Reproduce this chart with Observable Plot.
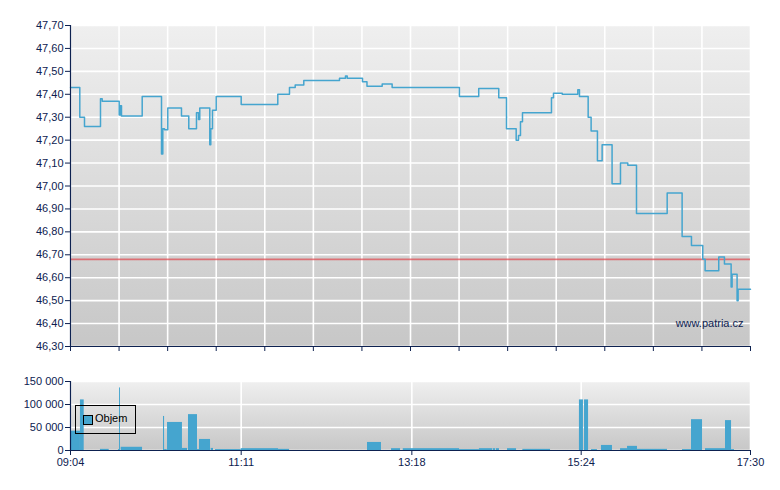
<!DOCTYPE html>
<html><head><meta charset="utf-8">
<script src="https://cdn.jsdelivr.net/npm/d3@7"></script>
<script src="https://cdn.jsdelivr.net/npm/@observablehq/plot@0.6"></script>
<style>
body{margin:0;background:#fff;font-family:"Liberation Sans",Arial,sans-serif;}
#wrap{position:relative;width:780px;height:490px;overflow:hidden;}
#price{position:absolute;left:0;top:0;}
#vol{position:absolute;left:0;top:360px;}
#legend{position:absolute;left:75px;top:405px;width:61px;height:29px;border:1px solid #000;box-sizing:border-box;font-size:11px;color:#000;}
#legend .sw{position:absolute;left:7px;top:9px;width:8px;height:8px;background:#46a6cf;border:1px solid #000;}
#legend .lb{position:absolute;left:19px;top:6px;line-height:13px;}
</style></head>
<body><div id="wrap"><div id="price"></div><div id="vol"></div>
<div id="legend"><div class="sw"></div><div class="lb">Objem</div></div></div>
<script>
// ---------- data ----------
const priceTimes = ["09:04:00","09:10:55","09:14:25","09:26:19","09:27:35","09:40:14","09:41:00","09:41:57","09:57:21",
 "10:11:43","10:12:41","10:13:56","10:16:24","10:26:35","10:32:01","10:37:45","10:39:14","10:40:12","10:47:39","10:48:23",
 "10:49:39","10:52:25","11:11:01","11:38:15","11:46:57","11:51:12","11:57:36","12:24:10","12:28:37","12:29:54","12:41:17",
 "12:44:37","12:55:56","13:03:20","13:53:24","14:07:46","14:22:40","14:28:26","14:35:38","14:37:22","14:38:50","14:40:20",
 "15:01:54","15:03:24","15:09:54","15:21:30","15:22:44","15:29:12","15:31:24","15:36:06","15:39:36","15:47:00","15:53:15",
 "15:58:42","16:05:10","16:28:00","16:39:07","16:46:04","16:54:29","16:56:14","17:06:22","17:10:37","17:15:35","17:16:19",
 "17:20:01","17:20:47","17:30:00"];
const priceValues = [47.43,47.30,47.26,47.38,47.37,47.31,47.35,47.305,47.39,
 47.14,47.25,47.245,47.34,47.305,47.25,47.32,47.29,47.34,47.18,47.25,
 47.33,47.39,47.355,47.40,47.43,47.44,47.46,47.47,47.48,47.47,47.455,
 47.435,47.445,47.43,47.39,47.425,47.385,47.25,47.20,47.22,47.28,47.32,
 47.385,47.405,47.40,47.42,47.39,47.30,47.24,47.11,47.18,47.01,47.10,
 47.09,46.88,46.97,46.78,46.74,46.68,46.63,46.69,46.66,46.56,46.615,
 46.50,46.55,46.55];
const refPrice = 46.68;

const volStart = ["09:04:00","09:11:24","09:26:18","09:39:42","09:40:30","09:41:42","10:13:12","10:14:00","10:16:12","10:27:18",
 "10:31:48","10:38:30","10:40:00","10:48:42","10:51:54","11:11:00","11:38:48","12:45:00","13:02:54","13:11:36","13:53:30",
 "14:08:18","14:18:30","14:21:00","14:29:12","14:40:36","15:22:42","15:26:30","15:31:42","15:39:06","15:53:18","15:58:30",
 "16:05:54","16:39:24","16:46:06","16:56:30","17:11:24","17:15:54"];
const volEnd = ["09:11:24","09:14:12","09:32:48","09:40:30","09:41:12","09:57:36","10:14:00","10:16:00","10:27:18","10:31:06",
 "10:38:30","10:40:00","10:48:12","10:50:24","11:11:00","11:38:48","11:47:00","12:55:24","13:09:36","13:53:30","14:08:18",
 "14:18:00","14:20:24","14:23:12","14:35:54","15:01:12","15:25:42","15:29:30","15:36:06","15:47:18","15:58:30","16:05:54",
 "16:28:12","16:46:06","16:54:18","17:11:24","17:15:54","17:18:06"];
const volValues = [42000,110000,2500,2000,136000,7000,74000,2000,61000,4500,
 78000,2000,24000,4500,2000,4000,2500,17500,4000,4000,2000,
 4000,4000,4000,4000,2500,110000,110000,2000,11000,4000,9000,
 2500,2000,67000,4000,65000,2000];

const sessionStart = "09:04", sessionEnd = "17:30";
const timeTickLabels = ["09:04","11:11","13:18","15:24","17:30"];
const priceTicks = [46.3,46.4,46.5,46.6,46.7,46.8,46.9,47.0,47.1,47.2,47.3,47.4,47.5,47.6,47.7];
const volTicks = [0,50000,100000,150000];
const watermark = "www.patria.cz";
const legendLabel = "Objem";

// ---------- helpers ----------
const toMin = s => { const [h,m,sec=0] = s.split(":").map(Number); return h*60 + m + sec/60; };
const loc = d3.formatLocale({decimal:",", thousands:"\u00a0", grouping:[3], currency:["",""]});
const fmtPrice = loc.format(".2f");
const fmtVol = loc.format(",d");
const navy = "#0d2150";
const blue = "#45a5cf";
const t0 = toMin(sessionStart), t1 = toMin(sessionEnd);
const gridPositions = d3.range(15).map(i => t0 + i*(t1 - t0)/14);
const labelTicks = timeTickLabels.map(toMin);
const fmtTime = v => { const i = labelTicks.indexOf(v); return i >= 0 ? timeTickLabels[i] : ""; };

const price = priceTimes.map((t,i) => ({t: toMin(t), p: priceValues[i]}));
const vol = volStart.map((s,i) => ({a: toMin(s), b: toMin(volEnd[i]), v: volValues[i]}));

function addGradient(svg, id) {
  const ns = "http://www.w3.org/2000/svg";
  const defs = document.createElementNS(ns, "defs");
  const g = document.createElementNS(ns, "linearGradient");
  g.setAttribute("id", id); g.setAttribute("x1","0"); g.setAttribute("y1","0"); g.setAttribute("x2","0"); g.setAttribute("y2","1");
  [["0%","#efefef"],["100%","#c7c7c7"]].forEach(([o,c]) => {
    const st = document.createElementNS(ns, "stop"); st.setAttribute("offset", o); st.setAttribute("stop-color", c); g.appendChild(st);
  });
  defs.appendChild(g); svg.insertBefore(defs, svg.firstChild);
}

const baseStyle = {fontFamily: '"Liberation Sans", Arial, sans-serif', fontSize: "11px", color: navy, background: "transparent", overflow: "visible"};

// ---------- price chart ----------
const priceSvg = Plot.plot({
  width: 780, height: 360,
  marginLeft: 70, marginRight: 30, marginTop: 25, marginBottom: 14,
  style: baseStyle,
  x: {type: "linear", domain: [t0, t1], label: null},
  y: {domain: [46.3, 47.7], label: null},
  marks: [
    Plot.frame({fill: "url(#gp)", stroke: null}),
    Plot.gridX(gridPositions, {stroke: "#fff", strokeOpacity: 1, strokeWidth: 1.6}),
    Plot.gridY(priceTicks, {stroke: "#fff", strokeOpacity: 1, strokeWidth: 1.6}),
    Plot.ruleY([refPrice], {stroke: "#e0454c", strokeOpacity: 0.7, strokeWidth: 1.6}),
    Plot.line(price, {x: "t", y: "p", curve: "step-after", stroke: blue, strokeWidth: 1.5}),
    Plot.text([watermark], {frameAnchor: "bottom-right", textAnchor: "end", lineAnchor: "middle", dx: -7, dy: -23, fill: navy, fontSize: 11}),
    Plot.ruleX([t0], {stroke: navy, strokeWidth: 1.2}),
    Plot.ruleY([46.3], {stroke: navy, strokeWidth: 1.2}),
    Plot.axisY(priceTicks, {tickSize: 5, tickPadding: 2, tickFormat: fmtPrice, stroke: navy, fill: navy, label: null}),
    Plot.axisX(gridPositions, {tickSize: 5, tickFormat: () => "", stroke: navy, label: null})
  ]
});
addGradient(priceSvg, "gp");
document.getElementById("price").appendChild(priceSvg);

// ---------- volume chart ----------
const volSvg = Plot.plot({
  width: 780, height: 130,
  marginLeft: 70, marginRight: 30, marginTop: 21, marginBottom: 40,
  style: baseStyle,
  x: {type: "linear", domain: [t0, t1], label: null},
  y: {domain: [0, 150000], label: null},
  marks: [
    Plot.frame({fill: "url(#gv)", stroke: null}),
    Plot.gridX(labelTicks, {stroke: "#fff", strokeOpacity: 1, strokeWidth: 1.6}),
    Plot.gridY(volTicks, {stroke: "#fff", strokeOpacity: 1, strokeWidth: 1.6}),
    Plot.rectY(vol, {x1: "a", x2: "b", y: "v", fill: blue}),
    Plot.ruleX([t0], {stroke: navy, strokeWidth: 1.2}),
    Plot.ruleY([0], {stroke: navy, strokeWidth: 1.2}),
    Plot.axisY(volTicks, {tickSize: 5, tickPadding: 2, tickFormat: fmtVol, stroke: navy, fill: navy, label: null}),
    Plot.axisX(labelTicks, {tickSize: 5, tickPadding: 3, tickFormat: fmtTime, stroke: navy, fill: navy, label: null})
  ]
});
addGradient(volSvg, "gv");
document.getElementById("vol").appendChild(volSvg);
document.querySelector("#legend .lb").textContent = legendLabel;
</script></body></html>
